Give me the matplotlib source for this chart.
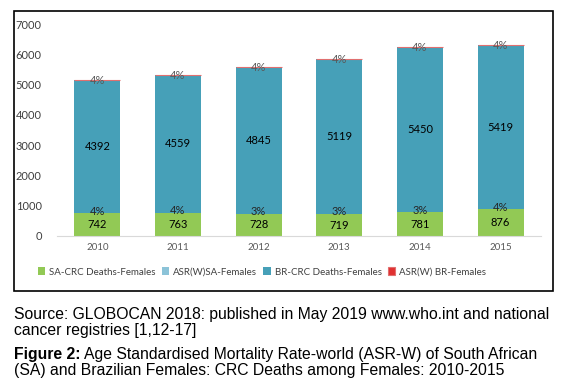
import matplotlib.pyplot as plt
import numpy as np
from matplotlib.patches import Rectangle

years = ['2010', '2011', '2012', '2013', '2014', '2015']
sa_deaths = [742, 763, 728, 719, 781, 876]
asr_sa = [4, 4, 3, 3, 3, 4]
br_deaths = [4392, 4559, 4845, 5119, 5450, 5419]
asr_br = [4, 4, 4, 4, 4, 4]

series_names = ['SA-CRC Deaths-Females', 'ASR(W)SA-Females',
                'BR-CRC Deaths-Females', 'ASR(W) BR-Females']
colors = ['#92C955', '#8CC3D8', '#46A0B8', '#E03030']

plt.rcParams['font.family'] = ['Lato', 'DejaVu Sans']

fig = plt.figure(figsize=(5.7, 3.88), dpi=100)
ax = fig.add_axes([0.1, 0.392, 0.849, 0.546])

x = np.arange(len(years))
w = 0.57
bottom = np.zeros(len(years))
series = [sa_deaths, asr_sa, br_deaths, asr_br]
for vals, c, name in zip(series, colors, series_names):
    vals = np.array(vals, dtype=float)
    lw = 0.8 if name.startswith('ASR(W) BR') else 0
    ax.bar(x, vals, w, bottom=bottom, color=c, label=name,
           edgecolor='#E07070' if lw else c, linewidth=lw)
    bottom += vals

# data labels
for i in range(len(years)):
    ax.text(x[i], sa_deaths[i] / 2, str(sa_deaths[i]), ha='center', va='center',
            fontsize=8, color='black')
    ax.text(x[i], sa_deaths[i] + asr_sa[i] / 2 + 70, f'{asr_sa[i]}%', ha='center',
            va='center', fontsize=8, color='#262626')
    base = sa_deaths[i] + asr_sa[i]
    ax.text(x[i], base + br_deaths[i] / 2, str(br_deaths[i]), ha='center',
            va='center', fontsize=8, color='black')
    top = base + br_deaths[i] + asr_br[i] / 2
    ax.text(x[i], top - 20, f'{asr_br[i]}%', ha='center', va='center',
            fontsize=8, color='#595959')

ax.set_xlim(-0.5, len(years) - 0.5)
ax.set_ylim(0, 7000)
ax.set_yticks(range(0, 7001, 1000))
ax.set_xticks(x)
ax.set_xticklabels(years)
ax.tick_params(axis='y', length=0, pad=11, labelsize=8, colors='#404040')
ax.tick_params(axis='x', length=0, pad=5, labelsize=7, colors='#595959')
for s in ['top', 'right', 'left']:
    ax.spines[s].set_visible(False)
ax.spines['bottom'].set_color('#D9D9D9')

leg = fig.legend(loc='center', bbox_to_anchor=(262 / 570, 1 - 272 / 388), ncol=4,
                 frameon=False, fontsize=7, handlelength=0.8, handleheight=0.8,
                 handletextpad=0.4, columnspacing=0.6)
for t in leg.get_texts():
    t.set_color('#404040')

# outer chart border
fig.patches.append(Rectangle((14 / 570, 1 - 291 / 388), 539 / 570, 280 / 388,
                             transform=fig.transFigure, fill=False,
                             edgecolor='black', linewidth=1.2))

cap = dict(family=['Liberation Sans', 'DejaVu Sans'], fontsize=11.3, color='black',
           va='center')
x0 = 14 / 570
fig.text(x0, 1 - 315 / 388,
         'Source: GLOBOCAN 2018: published in May 2019 www.who.int and national', **cap)
fig.text(x0, 1 - 331 / 388, 'cancer registries [1,12-17]', **cap)
bold = fig.text(x0, 1 - 355 / 388, 'Figure 2:', weight='bold', **cap)
renderer = fig.canvas.get_renderer()
bb = bold.get_window_extent(renderer)
x1 = (bb.x1 + 3) / fig.bbox.width
fig.text(x1, 1 - 355 / 388,
         'Age Standardised Mortality Rate-world (ASR-W) of South African', **cap)
fig.text(x0, 1 - 371 / 388,
         '(SA) and Brazilian Females: CRC Deaths among Females: 2010-2015', **cap)

fig.savefig('out.png', dpi=100)
